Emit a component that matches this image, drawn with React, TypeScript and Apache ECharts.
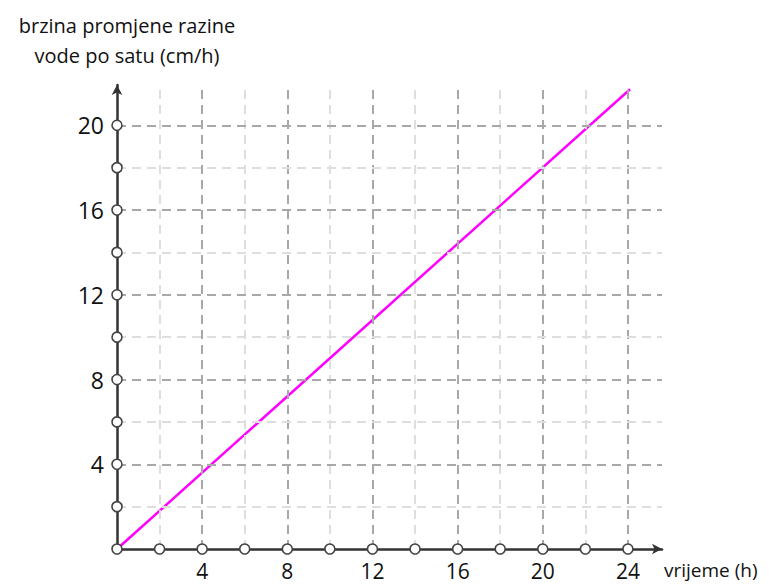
import React, { useEffect, useRef } from "react";
import * as echarts from "echarts";

const xTicks = [0, 2, 4, 6, 8, 10, 12, 14, 16, 18, 20, 22, 24];
const yTicks = [0, 2, 4, 6, 8, 10, 12, 14, 16, 18, 20];
const xLabels = ["4", "8", "12", "16", "20", "24"];
const yLabels = ["4", "8", "12", "16", "20"];
const lineData = [
  [0, 0],
  [24.1, 21.7],
];
const xMax = 25.6;
const yMax = 21.9;
const titleText = "brzina promjene razine\nvode po satu (cm/h)";
const xName = "vrijeme (h)";

const FONT = "'Open Sans', 'Noto Sans', sans-serif";

export default function App() {
  const ref = useRef<HTMLDivElement>(null);
  useEffect(() => {
    if (!ref.current) return;
    const chart = echarts.init(ref.current, undefined, { renderer: "svg" });
    const major = "#a8a8a8";
    const minor = "#dedede";
    const vLines = xTicks
      .filter((v) => v > 0)
      .map((v) => ({
        xAxis: v,
        lineStyle: { color: v % 4 === 0 ? major : minor, width: 2, type: [9, 6] },
      }));
    const hLines = yTicks
      .filter((v) => v > 0)
      .map((v) => ({
        yAxis: v,
        lineStyle: { color: v % 4 === 0 ? major : minor, width: 2, type: [9, 6] },
      }));
    const circles = [
      ...xTicks.map((v) => [v, 0]),
      ...yTicks.filter((v) => v > 0).map((v) => [0, v]),
    ];
    chart.setOption({
      animation: false,
      title: {
        text: titleText,
        left: 122,
        top: 5,
        textAlign: "center",
        textStyle: {
          fontFamily: FONT,
          fontSize: 20,
          fontWeight: "normal",
          color: "#111",
          lineHeight: 30,
          align: "center",
        },
      },
      graphic: [
        {
          type: "text",
          left: 664,
          top: 560,
          style: { text: xName, font: `19px ${FONT}`, fill: "#111" },
        },
      ],
      grid: { left: 117, top: 85, width: 545, height: 464, containLabel: false },
      xAxis: {
        type: "value",
        min: 0,
        max: xMax,
        interval: 2,
        axisLine: {
          show: true,
          onZero: false,
          symbol: ["none", "arrow"],
          symbolSize: [8, 10],
          lineStyle: { color: "#333", width: 2.5 },
        },
        axisTick: { show: false },
        splitLine: { show: false },
        axisLabel: {
          margin: 11,
          fontSize: 21,
          fontFamily: FONT,
          color: "#111",
          formatter: (v: number) => (xLabels.includes(String(v)) ? String(v) : ""),
        },
      },
      yAxis: {
        type: "value",
        min: 0,
        max: yMax,
        interval: 2,
        axisLine: {
          show: true,
          onZero: false,
          symbol: ["none", "arrow"],
          symbolSize: [8, 10],
          lineStyle: { color: "#333", width: 2.5 },
        },
        axisTick: { show: false },
        splitLine: { show: false },
        axisLabel: {
          margin: 13,
          fontSize: 23,
          fontFamily: FONT,
          color: "#111",
          formatter: (v: number) => (yLabels.includes(String(v)) ? String(v) : ""),
        },
      },
      series: [
        {
          type: "line",
          data: [],
          silent: true,
          z: 1,
          markLine: {
            silent: true,
            symbol: ["none", "none"],
            label: { show: false },
            emphasis: { disabled: true },
            data: [...vLines, ...hLines],
          },
        },
        {
          type: "line",
          data: lineData,
          showSymbol: false,
          z: 3,
          lineStyle: { color: "#ff00ff", width: 2.5 },
        },
        {
          type: "scatter",
          data: circles,
          symbol: "circle",
          symbolSize: 10,
          z: 5,
          itemStyle: { color: "#fff", borderColor: "#444", borderWidth: 1.6, opacity: 1 },
        },
      ],
    });
    return () => chart.dispose();
  }, []);
  return (
    <div
      ref={ref}
      style={{ position: "fixed", left: 0, top: 0, width: 770, height: 587, background: "#fff" }}
    />
  );
}
